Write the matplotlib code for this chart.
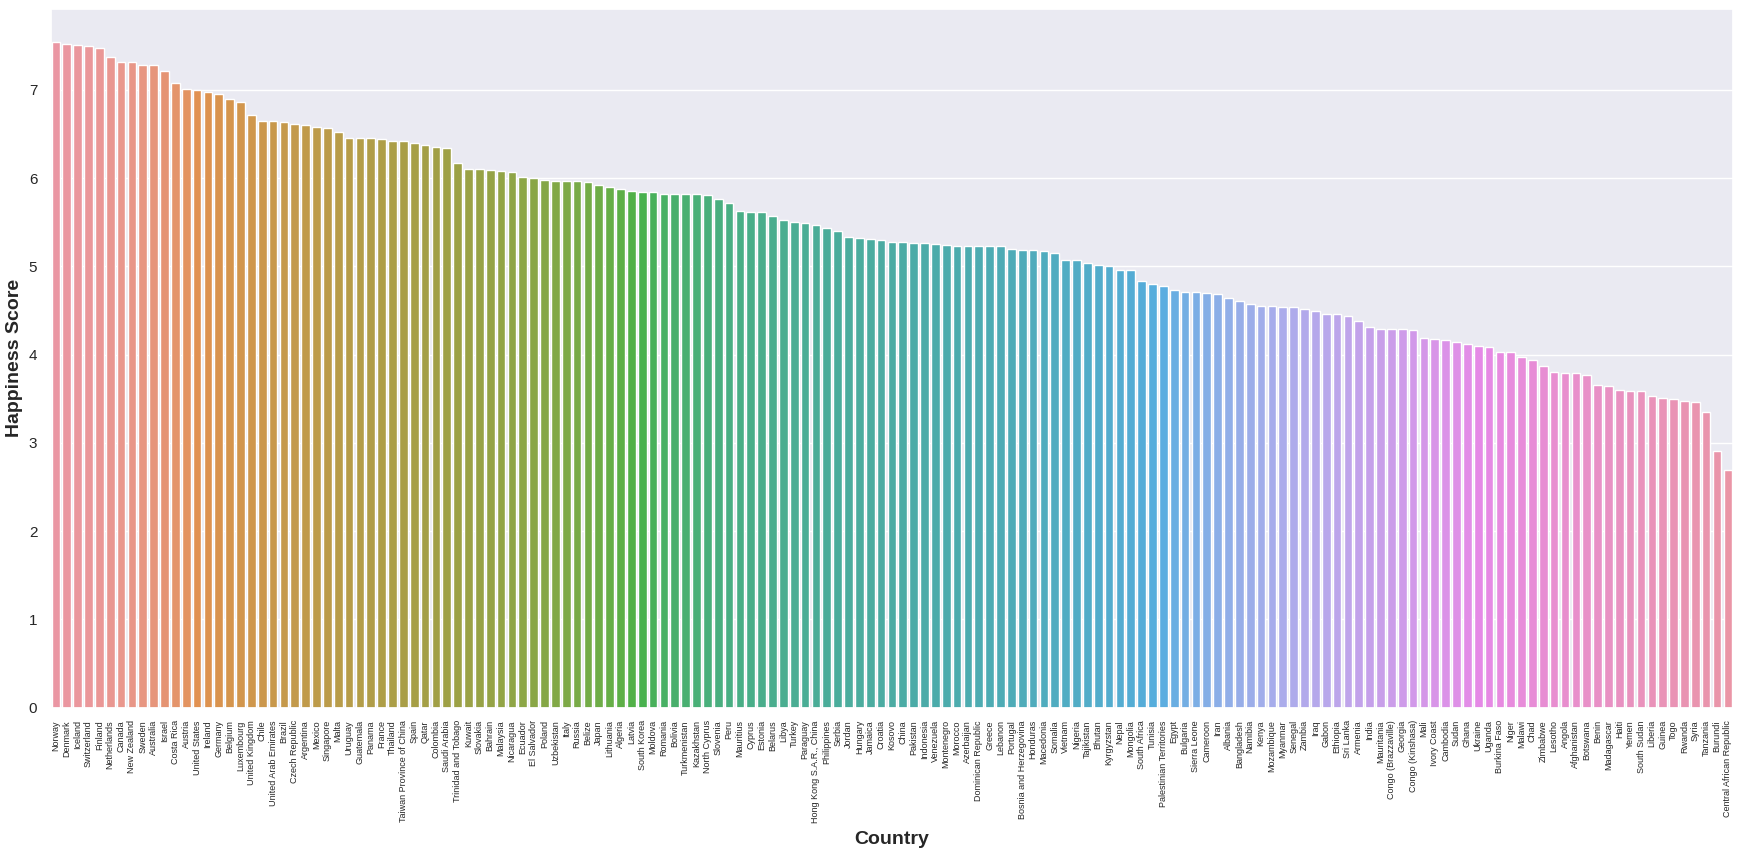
import matplotlib
matplotlib.use('Agg')
import matplotlib.pyplot as plt
import seaborn as sns
import pandas as pd

countries = [
    'Norway', 'Denmark', 'Iceland', 'Switzerland', 'Finland', 'Netherlands', 'Canada',
    'New Zealand', 'Sweden', 'Australia', 'Israel', 'Costa Rica', 'Austria', 'United States',
    'Ireland', 'Germany', 'Belgium', 'Luxembourg', 'United Kingdom', 'Chile',
    'United Arab Emirates', 'Brazil', 'Czech Republic', 'Argentina', 'Mexico', 'Singapore',
    'Malta', 'Uruguay', 'Guatemala', 'Panama', 'France', 'Thailand',
    'Taiwan Province of China', 'Spain', 'Qatar', 'Colombia', 'Saudi Arabia',
    'Trinidad and Tobago', 'Kuwait', 'Slovakia', 'Bahrain', 'Malaysia', 'Nicaragua',
    'Ecuador', 'El Salvador', 'Poland', 'Uzbekistan', 'Italy', 'Russia', 'Belize', 'Japan',
    'Lithuania', 'Algeria', 'Latvia', 'South Korea', 'Moldova', 'Romania', 'Bolivia',
    'Turkmenistan', 'Kazakhstan', 'North Cyprus', 'Slovenia', 'Peru', 'Mauritius', 'Cyprus',
    'Estonia', 'Belarus', 'Libya', 'Turkey', 'Paraguay', 'Hong Kong S.A.R., China',
    'Philippines', 'Serbia', 'Jordan', 'Hungary', 'Jamaica', 'Croatia', 'Kosovo', 'China',
    'Pakistan', 'Indonesia', 'Venezuela', 'Montenegro', 'Morocco', 'Azerbaijan',
    'Dominican Republic', 'Greece', 'Lebanon', 'Portugal', 'Bosnia and Herzegovina',
    'Honduras', 'Macedonia', 'Somalia', 'Vietnam', 'Nigeria', 'Tajikistan', 'Bhutan',
    'Kyrgyzstan', 'Nepal', 'Mongolia', 'South Africa', 'Tunisia', 'Palestinian Territories',
    'Egypt', 'Bulgaria', 'Sierra Leone', 'Cameroon', 'Iran', 'Albania', 'Bangladesh',
    'Namibia', 'Kenya', 'Mozambique', 'Myanmar', 'Senegal', 'Zambia', 'Iraq', 'Gabon',
    'Ethiopia', 'Sri Lanka', 'Armenia', 'India', 'Mauritania', 'Congo (Brazzaville)',
    'Georgia', 'Congo (Kinshasa)', 'Mali', 'Ivory Coast', 'Cambodia', 'Sudan', 'Ghana',
    'Ukraine', 'Uganda', 'Burkina Faso', 'Niger', 'Malawi', 'Chad', 'Zimbabwe', 'Lesotho',
    'Angola', 'Afghanistan', 'Botswana', 'Benin', 'Madagascar', 'Haiti', 'Yemen',
    'South Sudan', 'Liberia', 'Guinea', 'Togo', 'Rwanda', 'Syria', 'Tanzania', 'Burundi',
    'Central African Republic',
]

scores = [
    7.537, 7.522, 7.504, 7.494, 7.469, 7.377, 7.316, 7.314, 7.284, 7.284,
    7.213, 7.079, 7.006, 6.993, 6.977, 6.951, 6.891, 6.863, 6.714, 6.652,
    6.648, 6.635, 6.609, 6.599, 6.578, 6.572, 6.527, 6.454, 6.454, 6.452,
    6.442, 6.424, 6.422, 6.403, 6.375, 6.357, 6.344, 6.168, 6.105, 6.098,
    6.087, 6.084, 6.071, 6.008, 6.003, 5.973, 5.971, 5.964, 5.963, 5.956,
    5.920, 5.902, 5.872, 5.850, 5.838, 5.838, 5.825, 5.823, 5.822, 5.819,
    5.810, 5.758, 5.715, 5.629, 5.621, 5.611, 5.569, 5.525, 5.500, 5.493,
    5.472, 5.430, 5.395, 5.336, 5.324, 5.311, 5.293, 5.279, 5.273, 5.269,
    5.262, 5.250, 5.237, 5.235, 5.234, 5.230, 5.227, 5.225, 5.195, 5.182,
    5.181, 5.175, 5.151, 5.074, 5.074, 5.041, 5.011, 5.004, 4.962, 4.955,
    4.829, 4.805, 4.775, 4.735, 4.714, 4.709, 4.695, 4.692, 4.644, 4.608,
    4.574, 4.553, 4.550, 4.545, 4.535, 4.514, 4.497, 4.465, 4.460, 4.440,
    4.376, 4.315, 4.292, 4.291, 4.286, 4.280, 4.190, 4.180, 4.168, 4.139,
    4.120, 4.096, 4.081, 4.032, 4.028, 3.970, 3.936, 3.875, 3.808, 3.795,
    3.794, 3.766, 3.657, 3.644, 3.603, 3.593, 3.591, 3.533, 3.507, 3.495,
    3.471, 3.462, 3.349, 2.905, 2.693,
]

sns.set_theme(style='darkgrid')
plt.rcParams['font.family'] = ['Liberation Sans', 'DejaVu Sans']

df = pd.DataFrame({'Country': countries, 'Happiness Score': scores})

fig = plt.figure(figsize=(17.42, 8.63), dpi=100)
ax = fig.add_axes([0.029, 0.180, 0.966, 0.810])

pal = sns.husl_palette(len(countries), l=.7)
sns.barplot(data=df, x='Country', y='Happiness Score', hue='Country',
            palette=pal, saturation=.75, legend=False, ax=ax)

ax.set_xlim(-0.5, len(countries) - 0.5)
ax.set_ylim(0, 7.92)
plt.xticks(rotation=90, fontsize=6.5)
plt.yticks(fontsize=11)
ax.tick_params(axis='x', pad=3)
ax.set_xlabel('Country', fontsize=14, fontweight='bold', labelpad=6)
ax.set_ylabel('Happiness Score', fontsize=14, fontweight='bold')

fig.savefig('out.png', dpi=100)
